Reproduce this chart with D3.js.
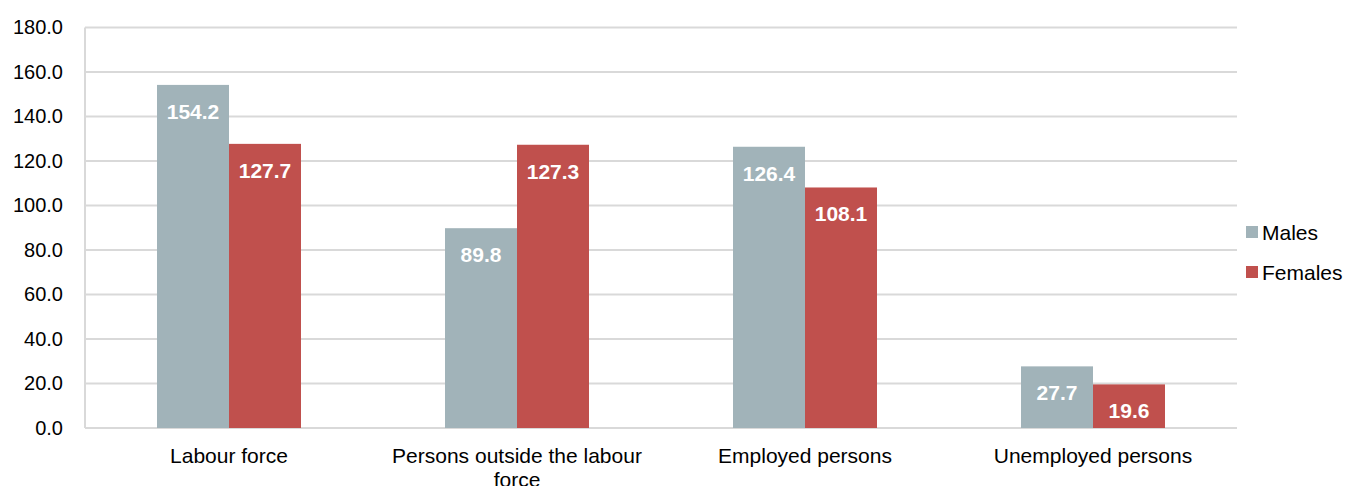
<!DOCTYPE html>
<html><head><meta charset="utf-8">
<script src="https://cdn.jsdelivr.net/npm/d3@7"></script>
<style>body{margin:0;background:#fff;}svg{display:block;font-family:"Liberation Sans",Arial,sans-serif;}</style>
</head><body>
<svg id="c" width="1345" height="486"></svg>
<script>
const categories = ["Labour force", "Persons outside the labour force", "Employed persons", "Unemployed persons"];
const seriesNames = ["Males", "Females"];
const males = [154.2, 89.8, 126.4, 27.7];
const females = [127.7, 127.3, 108.1, 19.6];
const yTicks = [0, 20, 40, 60, 80, 100, 120, 140, 160, 180];
const colors = ["#A1B3B9", "#C0504D"];

const svg = d3.select("#c");
const m = {left: 85, right: 1237, top: 27.5, bottom: 428};
const x = d3.scaleBand().domain(categories).range([m.left, m.right]).paddingInner(0).paddingOuter(0);
const xs = d3.scaleBand().domain(seriesNames).range([0, x.bandwidth()]).paddingInner(0).paddingOuter(1);
const y = d3.scaleLinear().domain([0, 180]).range([m.bottom, m.top]);

// gridlines
svg.append("g").selectAll("line").data(yTicks).join("line")
  .attr("x1", m.left).attr("x2", m.right)
  .attr("y1", d => y(d)).attr("y2", d => y(d))
  .attr("stroke", "#d9d9d9").attr("stroke-width", 2);
svg.append("line").attr("x1", m.left).attr("x2", m.left).attr("y1", y(180)).attr("y2", y(0))
  .attr("stroke", "#d9d9d9").attr("stroke-width", 2);

// y axis labels
const yAxis = d3.axisLeft(y).tickValues(yTicks).tickFormat(d3.format(".1f")).tickSize(0).tickPadding(22);
const ya = svg.append("g").attr("transform", `translate(${m.left},0)`).call(yAxis);
ya.select(".domain").remove();
ya.selectAll("text").attr("font-size", 20).attr("fill", "#000").attr("font-family", '"Liberation Sans",Arial,sans-serif');

const data = categories.map((c, i) => ({cat: c, vals: [{s: "Males", v: males[i]}, {s: "Females", v: females[i]}]}));
const groups = svg.append("g").selectAll("g").data(data).join("g")
  .attr("transform", d => `translate(${x(d.cat)},0)`);
groups.selectAll("rect").data(d => d.vals).join("rect")
  .attr("x", d => xs(d.s)).attr("width", xs.bandwidth())
  .attr("y", d => y(d.v)).attr("height", d => y(0) - y(d.v))
  .attr("fill", (d, i) => colors[i]);
groups.selectAll("text.val").data(d => d.vals).join("text").attr("class", "val")
  .attr("x", d => xs(d.s) + xs.bandwidth() / 2).attr("y", d => y(d.v) + 34)
  .attr("text-anchor", "middle").attr("font-size", 21).attr("font-weight", "bold").attr("fill", "#fff")
  .text(d => d.v.toFixed(1));

// x axis labels with wrapping
const xl = svg.append("g").selectAll("text").data(categories).join("text")
  .attr("x", d => x(d) + x.bandwidth() / 2).attr("y", 463)
  .attr("text-anchor", "middle").attr("font-size", 21).attr("fill", "#000");
xl.each(function(d) {
  const t = d3.select(this);
  const words = d.split(" ");
  const maxW = 270;
  let line = [], lines = [];
  const tmp = t.append("tspan");
  words.forEach(w => {
    line.push(w);
    tmp.text(line.join(" "));
    if (tmp.node().getComputedTextLength() > maxW && line.length > 1) {
      line.pop(); lines.push(line.join(" ")); line = [w];
    }
  });
  lines.push(line.join(" "));
  tmp.remove();
  lines.forEach((l, i) => t.append("tspan").attr("x", x(d) + x.bandwidth() / 2).attr("dy", i ? 24 : 0).text(l));
});

// legend
const lg = svg.append("g").selectAll("g").data(seriesNames).join("g")
  .attr("transform", (d, i) => `translate(1246,${232 + i * 40})`);
lg.append("rect").attr("x", 0).attr("y", -6).attr("width", 12).attr("height", 12).attr("fill", (d, i) => colors[i]);
lg.append("text").attr("x", 16).attr("y", 7.5).attr("font-size", 21).attr("fill", "#000").text(d => d);
</script>
</body></html>
